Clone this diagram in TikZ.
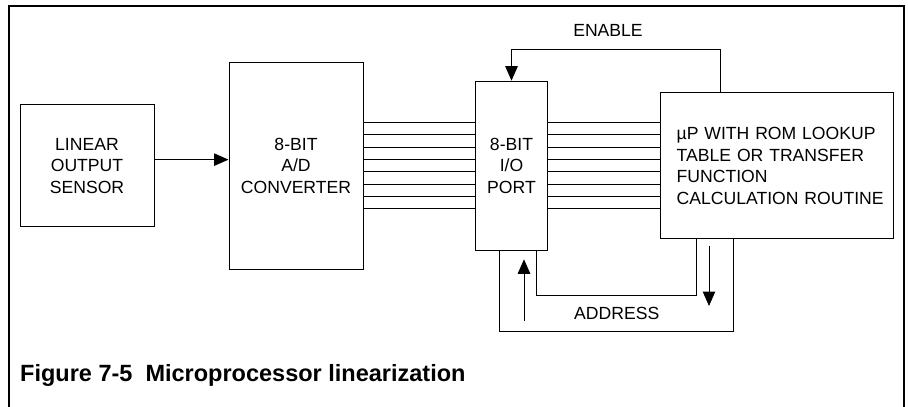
\documentclass[tikz,border=0pt]{standalone}
\usepackage{fontspec}
\setmainfont{Liberation Sans}
\usetikzlibrary{arrows.meta,calc}

\begin{document}
\begin{tikzpicture}[x=1pt,y=-1pt,
    blk/.style={draw,line width=1pt,inner sep=0pt,align=center,font=\fontsize{17.6}{21.7}\selectfont},
    lbl/.style={inner sep=0pt,font=\fontsize{17.6}{21.7}\selectfont},
    arr/.style={-{Triangle[length=14.5pt,width=12.5pt]},line width=1pt},
    wire/.style={line width=1pt}]
    \useasboundingbox (0,0) rectangle (908,407);

    % Frame
    \draw[line width=1.3pt] (9,412) -- (9,6) -- (904,6) -- (904,412);

    % Sensor
    \node[blk,minimum width=134pt,minimum height=122pt] (sensor) at (87,165.8) {LINEAR\\OUTPUT\\SENSOR};

    % A/D converter
    \node[blk,minimum width=134pt,minimum height=207pt] (ad) at (296,165.8) {8-BIT\\A/D\\CONVERTER};

    % I/O port
    \node[blk,minimum width=72.4pt,minimum height=169.3pt] (io) at (511.5,165.8) {8-BIT\\I/O\\PORT};

    % Microprocessor
    \node[blk,align=left,text width=200pt,inner xsep=16.35pt,minimum height=145.7pt] (mp) at (776.7,165.8)
        {µP WITH ROM LOOKUP\\TABLE OR TRANSFER\\FUNCTION\\\mbox{CALCULATION ROUTINE}};

    % Sensor to converter
    \draw[arr] ($(sensor.east)+(0,-6.17)$) -- ($(ad.west)+(0,-6.17)$);

    % 8-bit buses
    \foreach \i in {0,...,7} {
        \draw[wire] ($(ad.east)+(0,{(\i-3.5)*12.33})$) -- ($(io.west)+(0,{(\i-3.5)*12.33})$);
        \draw[wire] ($(io.east)+(0,{(\i-3.5)*12.33})$) -- ($(mp.west)+(0,{(\i-3.5)*12.33})$);
    }

    % Enable line
    \coordinate (entop) at (511.5,49.3);
    \draw[arr] ($(mp.north west)+(60.7,0)$) |- (entop) -- (io.north);
    \node[lbl] (enable) at (608,30) {ENABLE};

    % Address loops
    \coordinate (inbl) at (536.7,295);
    \coordinate (inbr) at (696.7,295);
    \coordinate (outbl) at (499.3,331.7);
    \coordinate (outbr) at (733.3,331.7);
    \draw[wire] (inbl |- io.south) -- (inbl) -- (inbr) -- (inbr |- mp.south);
    \draw[wire] (outbl |- io.south) -- (outbl) -- (outbr) -- (outbr |- mp.south);

    % Address arrows
    \coordinate (upa) at (524,320.7);
    \coordinate (upb) at (524,259.3);
    \coordinate (dna) at (709,245.7);
    \coordinate (dnb) at (709,306);
    \draw[arr] (upa) -- (upb);
    \draw[arr] (dna) -- (dnb);
    \node[lbl] (address) at (616.7,313.3) {ADDRESS};

    % Caption
    \node[anchor=base west,inner sep=0pt,font=\bfseries\fontsize{23.5}{28}\selectfont] (caption) at (20,381)
        {Figure 7-5\ \ Microprocessor linearization};
\end{tikzpicture}
\end{document}
